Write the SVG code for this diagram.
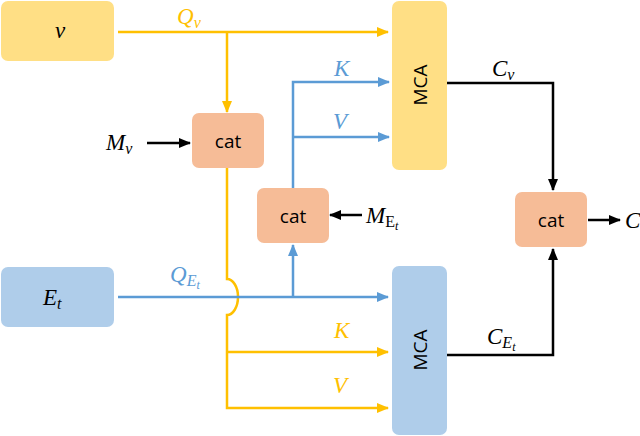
<svg xmlns="http://www.w3.org/2000/svg" width="640" height="436" viewBox="0 0 640 436">
<style>
.yb{fill:#FFDF85}
.bb{fill:#AFCDEA}
.cb{fill:#F6BC97}
.ly{stroke:#FFC000;stroke-width:2.5;fill:none}
.lb{stroke:#5B9BD5;stroke-width:2.5;fill:none}
.lk{stroke:#000;stroke-width:2.5;fill:none}
.sans{font-family:"Open Sans","Liberation Sans",sans-serif;font-size:19px;fill:#000}
.m{font-family:"Liberation Serif","DejaVu Serif",serif;font-style:italic;font-size:23px}
.s{font-size:16px}
.ss{font-size:12px}
.ty{fill:#FFC000}
.tb{fill:#5B9BD5}
.tk{fill:#000}
</style>
<defs>
<marker id="ay" markerUnits="userSpaceOnUse" markerWidth="12" markerHeight="12" refX="11" refY="6" orient="auto"><path d="M0,1 L12,6 L0,11 Z" fill="#FFC000"/></marker>
<marker id="ab" markerUnits="userSpaceOnUse" markerWidth="12" markerHeight="12" refX="11" refY="6" orient="auto"><path d="M0,1 L12,6 L0,11 Z" fill="#5B9BD5"/></marker>
<marker id="ak" markerUnits="userSpaceOnUse" markerWidth="12" markerHeight="12" refX="11" refY="6" orient="auto"><path d="M0,1 L12,6 L0,11 Z" fill="#000"/></marker>
</defs>
<g id="connectors">
<path class="ly" d="M118,32 H388" marker-end="url(#ay)"/>
<path class="ly" d="M227,32 V112" marker-end="url(#ay)"/>
<path class="ly" d="M227,168 V279 A11,18 0 0 1 227,315 V408 H388" marker-end="url(#ay)"/>
<path class="ly" d="M227,352 H388" marker-end="url(#ay)"/>
<path class="lb" d="M293,188 V82 H389" marker-end="url(#ab)"/>
<path class="lb" d="M293,137 H389" marker-end="url(#ab)"/>
<path class="lb" d="M118,297 H388" marker-end="url(#ab)"/>
<path class="lb" d="M293,297 V245" marker-end="url(#ab)"/>
<path class="lk" d="M147,143 H190" marker-end="url(#ak)"/>
<path class="lk" d="M362,215 H330" marker-end="url(#ak)"/>
<path class="lk" d="M447,83 H553 V190" marker-end="url(#ak)"/>
<path class="lk" d="M447,355 H553 V249" marker-end="url(#ak)"/>
<path class="lk" d="M588,220 H620" marker-end="url(#ak)"/>
</g>
<g id="labels">
<text class="m ty" x="177" y="24">Q<tspan class="s" dy="4">v</tspan></text>
<text class="m tb" x="334" y="76">K</text>
<text class="m tb" x="333" y="129">V</text>
<text class="m tb" x="170" y="282">Q<tspan class="s" dy="4">E</tspan><tspan class="ss" dy="3">t</tspan></text>
<text class="m ty" x="334" y="338">K</text>
<text class="m ty" x="333" y="393">V</text>
<text class="m tk" x="106" y="150">M<tspan class="s" dy="4">v</tspan></text>
<text class="m tk" x="366" y="223">M<tspan font-style="normal" class="s" dy="4">E</tspan><tspan class="ss" dy="3">t</tspan></text>
<text class="m tk" x="492" y="76">C<tspan class="s" dy="4">v</tspan></text>
<text class="m tk" x="487" y="344">C<tspan class="s" dy="4">E</tspan><tspan class="ss" dy="3">t</tspan></text>
<text class="m tk" x="625" y="228">C</text>
</g>
<g id="node-v"><rect class="yb" x="1" y="1" width="113" height="60" rx="7"/><text class="m tk" x="60" y="38" text-anchor="middle">v</text></g>
<g id="node-Et"><rect class="bb" x="1" y="267" width="113" height="60" rx="7"/><text class="m tk" x="43" y="305">E<tspan class="s" dy="4">t</tspan></text></g>
<g id="node-cat1"><rect class="cb" x="192" y="113" width="72" height="55" rx="7"/><text class="sans" x="228" y="148" text-anchor="middle">cat</text></g>
<g id="node-cat2"><rect class="cb" x="257" y="188" width="72" height="55" rx="7"/><text class="sans" x="293" y="223" text-anchor="middle">cat</text></g>
<g id="node-cat3"><rect class="cb" x="515" y="192" width="72" height="55" rx="7"/><text class="sans" x="551" y="227" text-anchor="middle">cat</text></g>
<g id="node-mca1"><rect class="yb" x="392" y="1" width="55" height="169" rx="7"/><text class="sans" transform="translate(427,85) rotate(-90)" text-anchor="middle">MCA</text></g>
<g id="node-mca2"><rect class="bb" x="392" y="266" width="55" height="169" rx="7"/><text class="sans" transform="translate(427,350) rotate(-90)" text-anchor="middle">MCA</text></g>
</svg>
